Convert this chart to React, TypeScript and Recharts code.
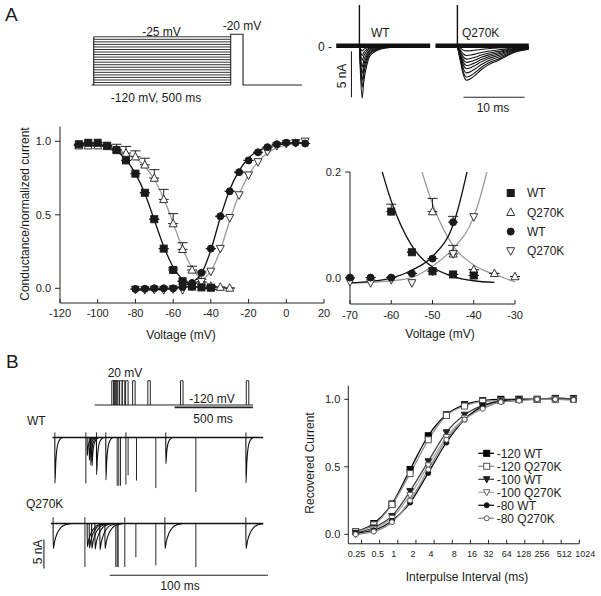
import React from 'react';
import { ComposedChart, LineChart, Line, Scatter, XAxis, YAxis, ErrorBar, Legend } from 'recharts';

const FONT = '"Liberation Sans", Arial, Helvetica, sans-serif';
const INK = '#1a1a1a';
const GRAY = '#9b9b9b';

/* ================= Panel A : voltage protocol ================= */
const prepulseLevels = [-120, -115, -110, -105, -100, -95, -90, -85, -80, -75, -70, -65, -60, -55, -50, -45, -40, -35, -30, -25];
const holdingLevel = -120;
const testLevel = -20;
const protocolTimes = [-8, 0, 500, 545, 760]; // start, prepulse on, test on, test off, end (ms)

/* ================= Panel A : current traces ================= */
const wtPeaks = [0.55, 1.05, 1.6, 2.3, 3.0, 3.75, 4.5, 5.7];
const q270kPeaks = [0.55, 1.05, 1.45, 1.8, 2.15, 2.5, 2.95, 3.4, 3.75];
const wtShapeTime = [0, 0.15, 0.45, 0.7, 1.2, 1.75, 2.9, 4.5, 8.0, 11.5];
const wtShapeFrac = [0, 0.45, 1.0, 0.7, 0.38, 0.19, 0.09, 0.04, 0.01, 0];
const q270kShapeTime = [0, 0.5, 1.0, 1.5, 2.2, 3.0, 3.8, 5.0, 6.6, 8.0, 9.3, 11.0, 11.7];
const q270kShapeFrac = [0, 0.45, 0.85, 1.0, 0.95, 0.84, 0.71, 0.56, 0.43, 0.3, 0.19, 0.12, 0.1];
const transientPeak = 4.46;

/* ================= Panel A : conductance / inactivation ================= */
const inactWTVolt = [-110, -105, -100, -95, -90, -85, -80, -75, -70, -65, -60, -55, -50, -45, -40];
const inactWTVal = [0.98, 0.99, 0.99, 0.97, 0.94, 0.87, 0.78, 0.65, 0.47, 0.27, 0.125, 0.048, 0.012, 0.006, 0.004];
const inactWTErr = [0, 0, 0, 0, 0, 0, 0, 0, 0, 0, 0.014, 0, 0, 0, 0];

const inactQVolt = [-110, -105, -100, -95, -90, -85, -80, -75, -70, -65, -60, -55, -50, -45, -40, -35, -30];
const inactQVal = [0.97, 0.97, 0.97, 0.965, 0.945, 0.92, 0.895, 0.84, 0.75, 0.605, 0.44, 0.265, 0.125, 0.045, 0.015, 0.008, 0.002];
const inactQErr = [0, 0, 0, 0.01, 0.035, 0.045, 0.04, 0.045, 0.057, 0.068, 0.068, 0.045, 0.025, 0.016, 0, 0, 0];

const actVolt = [-80, -75, -70, -65, -60, -55, -50, -45, -40, -35, -30, -25, -20, -15, -10, -5, 0, 5, 10];
const actWTVal = [-0.005, -0.003, 0.0, 0.0, 0.0, 0.008, 0.036, 0.105, 0.27, 0.49, 0.66, 0.79, 0.87, 0.925, 0.96, 0.98, 0.99, 0.99, 0.985];
const actWTErr = [0, 0, 0, 0, 0, 0, 0, 0.011, 0, 0, 0, 0, 0, 0, 0, 0, 0, 0, 0];
const actQVal = [-0.008, -0.01, -0.008, -0.01, -0.004, -0.01, 0.012, 0.045, 0.115, 0.27, 0.48, 0.635, 0.77, 0.86, 0.93, 0.97, 0.985, 0.99, 1.0];

const fitInactWTVolt = [-110, -100, -95, -90, -85, -80, -75, -70, -65, -60, -55, -50, -45, -40, -35];
const fitInactWTVal = [0.985, 0.98, 0.965, 0.935, 0.875, 0.78, 0.645, 0.465, 0.285, 0.145, 0.06, 0.02, 0.002, -0.006, -0.009];
const fitInactQVolt = [-110, -100, -95, -90, -85, -80, -75, -70, -65, -60, -55, -50, -45, -40, -35, -30];
const fitInactQVal = [0.975, 0.97, 0.96, 0.945, 0.92, 0.885, 0.83, 0.74, 0.61, 0.445, 0.27, 0.14, 0.06, 0.024, 0.006, -0.008];
const fitActVolt = [-80, -75, -70, -65, -60, -55, -50, -45, -40, -35, -30, -25, -20, -15, -10, -5, 0, 5, 10];
const fitActWTVal = [-0.012, -0.011, -0.01, -0.007, -0.001, 0.014, 0.04, 0.1, 0.26, 0.48, 0.67, 0.8, 0.885, 0.935, 0.96, 0.975, 0.985, 0.99, 0.99];
const fitActQVal = [-0.012, -0.011, -0.01, -0.009, -0.006, 0.0, 0.022, 0.055, 0.115, 0.26, 0.46, 0.64, 0.77, 0.86, 0.92, 0.955, 0.975, 0.985, 0.99];

const mainXTicks = [-120, -100, -80, -60, -40, -20, 0, 20];
const insetXTicks = [-70, -60, -50, -40, -30];

/* ================= Panel B : paired-pulse protocol & traces ================= */
const bPulseTimes = [110, 121, 132, 142, 160, 177, 198, 243, 340, 549, 969];
const bPulseWidth = 16;
const bProtocolEnd = 1011;

const bWtCurrentTimes = [0, 20.4, 21.7, 22.6, 23.4, 26.3, 32.2, 70.1, 120.7];
const bWtCurrentAmps = [7.9, 3.1, 3.9, 4.7, 4.9, 6.4, 7.3, 4.5, 7.8];
const bWtArtifactTimes = [19.6, 39.4, 40.4, 41.5, 44.9, 46.3, 51.6, 63.8, 89.1];
const bWtArtifactDepths = [7.9, 8.3, 8.3, 8.3, 8.1, 6.5, 7.4, 8.7, 9.4];
const bWtUpTimes = [0, 19.6, 26.3, 32.2, 44.9, 70.1, 120.7];

const bQCurrentTimes = [-1.1, 20.4, 21.7, 23.2, 25.3, 28.4, 31.6, 69.5, 120.7];
const bQCurrentAmps = [4.3, 4.0, 4.2, 4.3, 4.4, 4.5, 4.3, 4.3, 4.3];
const bQArtifactTimes = [19.0, 38.5, 39.4, 40.0, 44.2, 51.2, 63.8, 89.1];
const bQArtifactDepths = [7.5, 7.5, 7.5, 7.5, 7.5, 5.8, 7.2, 7.5];
const bQUpTimes = [-1.1, 19.0, 44.2, 69.5, 120.7];

const bWtShapeTime = [0, 0.05, 0.6, 1.3, 2.5, 4.5];
const bWtShapeFrac = [0, 1, 0.55, 0.25, 0.08, 0];
const bQShapeTime = [0, 0.1, 1.0, 2.5, 5.0, 8.0, 11.0];
const bQShapeFrac = [0, 1, 0.7, 0.4, 0.15, 0.04, 0];

/* ================= Panel B : recovery from inactivation ================= */
const recoveryIntervals = [0.2, 0.4, 0.8, 1.6, 3.2, 6.4, 12.8, 25.6, 51.2, 102.4, 204.8, 409.6, 819.2];
const recoveryTicks = [0.25, 0.5, 1, 2, 4, 8, 16, 32, 64, 128, 256, 512, 1024];
const rec120WT = [0.02, 0.08, 0.225, 0.48, 0.73, 0.885, 0.96, 0.99, 1.0, 1.0, 1.0, 1.005, 1.005];
const rec120Q = [0.02, 0.07, 0.22, 0.45, 0.7, 0.88, 0.95, 0.985, 0.99, 1.0, 1.0, 1.0, 1.0];
const rec100WT = [0.01, 0.05, 0.135, 0.32, 0.54, 0.755, 0.885, 0.955, 0.99, 1.0, 1.0, 1.01, 1.0];
const rec100Q = [0.0, 0.04, 0.12, 0.29, 0.51, 0.72, 0.86, 0.94, 0.985, 0.995, 1.0, 1.0, 1.0];
const rec80WT = [0.01, 0.03, 0.1, 0.235, 0.455, 0.68, 0.85, 0.95, 0.985, 1.0, 1.0, 1.0, 1.0];
const rec80Q = [0.0, 0.02, 0.09, 0.25, 0.48, 0.7, 0.85, 0.93, 0.98, 0.99, 1.0, 1.0, 0.995];

// small horizontal nudges of crowded tick labels (style only)
const recoveryTickNudge: Record<string, number> = { '0.25': -5, '0.5': -2, '1': -4, '2': -3, '4': -3, '8': 2, '16': 1.5, '128': -1, '256': -1, '512': 3, '1024': 6 };

/* ================= helpers ================= */
type P = { x: number; y: number; err?: number[] };
const pts = (xs: number[], ys: number[]): P[] => xs.map((x, i) => ({ x, y: ys[i] }));
const ptsErr = (xs: number[], ys: number[], es: number[]): P[] => xs.map((x, i) => ({ x, y: ys[i], err: [0, es[i]] }));

type Kind = 'square' | 'triangle' | 'invtriangle' | 'circle';
function Glyph({ kind, cx, cy, size, filled, color = INK, sw = 1 }: { kind: Kind; cx: number; cy: number; size: number; filled: boolean; color?: string; sw?: number }) {
  if (cx == null || cy == null || isNaN(cx) || isNaN(cy)) return null;
  const h = size / 2;
  const fill = filled ? color : '#fff';
  const c = { fill, stroke: color, strokeWidth: sw };
  switch (kind) {
    case 'square':
      return <rect x={cx - h} y={cy - h} width={size} height={size} {...c} />;
    case 'circle':
      return <circle cx={cx} cy={cy} r={h} {...c} />;
    case 'triangle':
      return <polygon points={`${cx},${cy - h * 1.1} ${cx + h},${cy + h * 0.8} ${cx - h},${cy + h * 0.8}`} {...c} />;
    default:
      return <polygon points={`${cx},${cy + h * 1.1} ${cx + h},${cy - h * 0.8} ${cx - h},${cy - h * 0.8}`} {...c} />;
  }
}

type Seg = { data: P[]; stroke: string; width: number; curve?: 'linear' | 'monotone' };

function Drawing({ left, top, width, height, xDomain, yDomain, segs }: { left: number; top: number; width: number; height: number; xDomain: number[]; yDomain: number[]; segs: Seg[] }) {
  return (
    <div style={{ position: 'absolute', left, top }}>
      <LineChart width={width} height={height} margin={{ top: 0, right: 0, bottom: 0, left: 0 }}>
        <XAxis type="number" dataKey="x" domain={xDomain} hide />
        <YAxis type="number" dataKey="y" domain={yDomain} hide />
        {segs.map((s, i) => (
          <Line key={i} data={s.data} dataKey="y" type={s.curve || 'linear'} stroke={s.stroke} strokeWidth={s.width} dot={false} activeDot={false} isAnimationActive={false} legendType="none" />
        ))}
      </LineChart>
    </div>
  );
}

/* ---------- build drawing segments ---------- */
const protocolASegs: Seg[] = [
  ...prepulseLevels.map((v) => ({ data: [{ x: protocolTimes[1], y: v }, { x: protocolTimes[2], y: v }], stroke: '#333', width: 1 })),
  { data: [{ x: protocolTimes[0], y: holdingLevel }, { x: protocolTimes[1], y: holdingLevel }, { x: protocolTimes[1], y: prepulseLevels[prepulseLevels.length - 1] }], stroke: '#222', width: 1.1 },
  {
    data: [
      { x: protocolTimes[2], y: holdingLevel },
      { x: protocolTimes[2], y: testLevel },
      { x: protocolTimes[3], y: testLevel },
      { x: protocolTimes[3], y: holdingLevel },
      { x: protocolTimes[4], y: holdingLevel },
    ],
    stroke: '#222',
    width: 1.1,
  },
];

const family = (peaks: number[], ts: number[], fs: number[]): Seg[] =>
  peaks.map((p) => ({ data: ts.map((t, i) => ({ x: t, y: -p * fs[i] })), stroke: '#111', width: 1.1, curve: 'monotone' as const }));

const wtTraceSegs: Seg[] = [
  { data: [{ x: -3.8, y: 0 }, { x: 11.6, y: 0 }], stroke: '#111', width: 4.5 },
  ...family(wtPeaks, wtShapeTime, wtShapeFrac),
  { data: [{ x: 0, y: 0 }, { x: 0, y: transientPeak }], stroke: '#111', width: 1.4 },
  { data: [{ x: -1.3, y: -0.6 }, { x: -1.3, y: -5.6 }], stroke: '#222', width: 1.1 },
];
const qTraceSegs: Seg[] = [
  { data: [{ x: -3.6, y: 0 }, { x: 11.7, y: 0 }], stroke: '#111', width: 4.5 },
  ...family(q270kPeaks, q270kShapeTime, q270kShapeFrac),
  { data: [{ x: 0, y: 0 }, { x: 0, y: transientPeak }], stroke: '#111', width: 1.4 },
  { data: [{ x: 1.0, y: -5.6 }, { x: 11.0, y: -5.6 }], stroke: '#222', width: 1.1 },
];

const protocolBSegs: Seg[] = [
  { data: [{ x: 0, y: -120 }, { x: bProtocolEnd, y: -120 }], stroke: '#222', width: 1.1 },
  ...bPulseTimes.map((t) => ({
    data: [{ x: t, y: -120 }, { x: t, y: 20 }, { x: t + bPulseWidth, y: 20 }, { x: t + bPulseWidth, y: -120 }],
    stroke: '#222',
    width: 1,
  })),
  { data: [{ x: bProtocolEnd - 500, y: -133 }, { x: bProtocolEnd, y: -133 }], stroke: '#222', width: 1.8 },
];

const currentSegs = (times: number[], amps: number[], st: number[], sf: number[]): Seg[] =>
  times.map((t, i) => ({ data: st.map((s, j) => ({ x: t + s, y: -amps[i] * sf[j] })), stroke: '#111', width: 1.1, curve: 'monotone' as const }));
const artifactSegs = (times: number[], depths: number[]): Seg[] =>
  times.map((t, i) => ({ data: [{ x: t, y: 0 }, { x: t, y: -depths[i] }], stroke: '#111', width: 0.9 }));
const upSegs = (times: number[], up: number): Seg[] => times.map((t) => ({ data: [{ x: t, y: 0 }, { x: t, y: up }], stroke: '#111', width: 0.9 }));

const bWtSegs: Seg[] = [
  { data: [{ x: -1.5, y: 0 }, { x: 131.6, y: 0 }], stroke: '#111', width: 1.5 },
  ...currentSegs(bWtCurrentTimes, bWtCurrentAmps, bWtShapeTime, bWtShapeFrac),
  ...artifactSegs(bWtArtifactTimes, bWtArtifactDepths),
  ...upSegs(bWtUpTimes, 0.9),
];
const bQSegs: Seg[] = [
  { data: [{ x: -2.5, y: 0 }, { x: 131.6, y: 0 }], stroke: '#111', width: 1.5 },
  ...currentSegs(bQCurrentTimes, bQCurrentAmps, bQShapeTime, bQShapeFrac),
  ...artifactSegs(bQArtifactTimes, bQArtifactDepths),
  ...upSegs(bQUpTimes, 1.1),
  { data: [{ x: -6.9, y: -2.76 }, { x: -6.9, y: -7.76 }], stroke: '#222', width: 1.1 },
  { data: [{ x: 34.7, y: -8.9 }, { x: 134.7, y: -8.9 }], stroke: '#222', width: 1.1 },
];

/* ---------- conductance chart data ---------- */
const inactWT = ptsErr(inactWTVolt, inactWTVal, inactWTErr);
const inactQ = ptsErr(inactQVolt, inactQVal, inactQErr);
const actWT = ptsErr(actVolt, actWTVal, actWTErr);
const actQ = pts(actVolt, actQVal);
const fitInactWT = pts(fitInactWTVolt, fitInactWTVal);
const fitInactQ = pts(fitInactQVolt, fitInactQVal);
const fitActWT = pts(fitActVolt, fitActWTVal);
const fitActQ = pts(fitActVolt, fitActQVal);

const inWinX = (p: P) => p.x >= -70 && p.x <= -30;
const inWin = (p: P) => inWinX(p) && p.y <= 0.2;

const axisStroke = { stroke: '#222', strokeWidth: 1 };
const tickStyle = (fs: number) => ({ fontSize: fs, fill: '#222', fontFamily: FONT });

const shapeOf = (kind: Kind, size: number, filled: boolean, color = INK) => (p: any) => (
  <Glyph kind={kind} cx={p.cx} cy={p.cy} size={size} filled={filled} color={color} />
);

function MainChart() {
  return (
    <div style={{ position: 'absolute', left: 0, top: 100 }}>
      <ComposedChart width={340} height={240} margin={{ top: 26.6, right: 16, bottom: 7, left: 20 }}>
        <XAxis type="number" dataKey="x" domain={[-120, 20]} ticks={mainXTicks} interval={0} height={30} tickSize={-4} tickMargin={10.5} axisLine={axisStroke} tickLine={axisStroke} tick={tickStyle(11)} />
        <YAxis type="number" dataKey="y" domain={[-0.1, 1.1]} ticks={[0, 0.5, 1]} interval={0} width={40} tickSize={5} tickMargin={4} tickFormatter={(v: number) => v.toFixed(1)} axisLine={axisStroke} tickLine={axisStroke} tick={tickStyle(11)} />
        <Line data={fitInactQ} dataKey="y" type="monotone" stroke={GRAY} strokeWidth={1.3} dot={false} activeDot={false} isAnimationActive={false} />
        <Line data={fitActQ} dataKey="y" type="monotone" stroke={GRAY} strokeWidth={1.3} dot={false} activeDot={false} isAnimationActive={false} />
        <Line data={fitInactWT} dataKey="y" type="monotone" stroke="#111" strokeWidth={1.3} dot={false} activeDot={false} isAnimationActive={false} />
        <Line data={fitActWT} dataKey="y" type="monotone" stroke="#111" strokeWidth={1.3} dot={false} activeDot={false} isAnimationActive={false} />
        <Scatter data={inactQ} dataKey="y" shape={shapeOf('triangle', 8, false, '#333')} isAnimationActive={false}>
          <ErrorBar dataKey="err" direction="y" width={5} stroke="#222" strokeWidth={1} />
        </Scatter>
        <Scatter data={actQ} dataKey="y" shape={shapeOf('invtriangle', 8, false, '#333')} isAnimationActive={false} />
        <Scatter data={inactWT} dataKey="y" shape={shapeOf('square', 7, true)} isAnimationActive={false}>
          <ErrorBar dataKey="err" direction="y" width={5} stroke="#222" strokeWidth={1} />
        </Scatter>
        <Scatter data={actWT} dataKey="y" shape={shapeOf('circle', 7, true)} isAnimationActive={false}>
          <ErrorBar dataKey="err" direction="y" width={5} stroke="#222" strokeWidth={1} />
        </Scatter>
      </ComposedChart>
    </div>
  );
}

const insetLegendItems: { label: string; kind: Kind; filled: boolean }[] = [
  { label: 'WT', kind: 'square', filled: true },
  { label: 'Q270K', kind: 'triangle', filled: false },
  { label: 'WT', kind: 'circle', filled: true },
  { label: 'Q270K', kind: 'invtriangle', filled: false },
];

function InsetLegend() {
  return (
    <svg width={90} height={80} style={{ overflow: 'visible' }}>
      {insetLegendItems.map((it, i) => (
        <g key={i}>
          <Glyph kind={it.kind} cx={10.7} cy={13 + i * 19.3} size={it.kind === 'square' || it.kind === 'circle' ? 7 : 8} filled={it.filled} color={it.filled ? INK : '#333'} />
          <text x={27} y={17.3 + i * 19.3} fontSize={12} fontFamily={FONT} fill="#222">{it.label}</text>
        </g>
      ))}
    </svg>
  );
}

function InsetChart() {
  return (
    <div style={{ position: 'absolute', left: 300, top: 140 }}>
      <ComposedChart width={290} height={200} margin={{ top: 32, right: 75, bottom: 6, left: 10 }}>
        <XAxis type="number" dataKey="x" domain={[-70, -30]} ticks={insetXTicks} interval={0} height={30} tickSize={-4} tickMargin={11} axisLine={axisStroke} tickLine={axisStroke} tick={tickStyle(11)} />
        <YAxis type="number" dataKey="y" domain={[-0.05, 0.2]} allowDataOverflow ticks={[0, 0.2]} interval={0} width={40} tickSize={5} tickMargin={4} tickFormatter={(v: number) => v.toFixed(1)} axisLine={axisStroke} tickLine={axisStroke} tick={tickStyle(11)} />
        <Line data={fitInactQ.filter(inWinX)} dataKey="y" type="monotone" stroke={GRAY} strokeWidth={1.3} dot={false} activeDot={false} isAnimationActive={false} />
        <Line data={fitActQ.filter(inWinX)} dataKey="y" type="monotone" stroke={GRAY} strokeWidth={1.3} dot={false} activeDot={false} isAnimationActive={false} />
        <Line data={fitInactWT.filter(inWinX)} dataKey="y" type="monotone" stroke="#111" strokeWidth={1.3} dot={false} activeDot={false} isAnimationActive={false} />
        <Line data={fitActWT.filter(inWinX)} dataKey="y" type="monotone" stroke="#111" strokeWidth={1.3} dot={false} activeDot={false} isAnimationActive={false} />
        <Scatter data={inactQ.filter(inWin)} dataKey="y" shape={shapeOf('triangle', 8, false, '#333')} isAnimationActive={false}>
          <ErrorBar dataKey="err" direction="y" width={5} stroke="#222" strokeWidth={1} />
        </Scatter>
        <Scatter data={actQ.filter(inWin)} dataKey="y" shape={shapeOf('invtriangle', 8, false, '#333')} isAnimationActive={false} />
        <Scatter data={inactWT.filter(inWin)} dataKey="y" shape={shapeOf('square', 7, true)} isAnimationActive={false}>
          <ErrorBar dataKey="err" direction="y" width={5} stroke="#222" strokeWidth={1} />
        </Scatter>
        <Scatter data={actWT.filter(inWin)} dataKey="y" shape={shapeOf('circle', 7, true)} isAnimationActive={false}>
          <ErrorBar dataKey="err" direction="y" width={5} stroke="#222" strokeWidth={1} />
        </Scatter>
        <Legend layout="vertical" align="center" verticalAlign="middle" wrapperStyle={{ left: 200, top: 40, width: 90, height: 80 }} content={() => <InsetLegend />} />
      </ComposedChart>
    </div>
  );
}

const recoverySeries: { name: string; values: number[]; kind: Kind; filled: boolean; line: string; mark: string; size: number }[] = [
  { name: '-120 WT', values: rec120WT, kind: 'square', filled: true, line: '#000', mark: '#000', size: 6 },
  { name: '-120 Q270K', values: rec120Q, kind: 'square', filled: false, line: '#8c8c8c', mark: '#555', size: 6 },
  { name: '-100 WT', values: rec100WT, kind: 'invtriangle', filled: true, line: '#444', mark: '#222', size: 6.5 },
  { name: '-100 Q270K', values: rec100Q, kind: 'invtriangle', filled: false, line: '#a8a8a8', mark: '#666', size: 6.5 },
  { name: '-80 WT', values: rec80WT, kind: 'circle', filled: true, line: '#111', mark: '#111', size: 5 },
  { name: '-80 Q270K', values: rec80Q, kind: 'circle', filled: false, line: '#8c8c8c', mark: '#555', size: 5 },
];

function RecoveryLegend() {
  return (
    <svg width={110} height={82} style={{ overflow: 'visible' }}>
      {recoverySeries.map((s, i) => (
        <g key={i}>
          <line x1={3.3} x2={19} y1={8.3 + i * 13} y2={8.3 + i * 13} stroke={s.line} strokeWidth={1.3} />
          <Glyph kind={s.kind} cx={11.7} cy={8.3 + i * 13} size={s.size} filled={s.filled} color={s.mark} />
          <text x={21.7} y={12.5 + i * 13} fontSize={12} fontFamily={FONT} fill="#222">{s.name}</text>
        </g>
      ))}
    </svg>
  );
}

function RecoveryTick(props: any) {
  const { x, y, payload } = props;
  const label = String(payload.value);
  const dx = recoveryTickNudge[label] || 0;
  return (
    <text x={x + dx} y={y} dy="0.71em" textAnchor="middle" fontSize={9} fontFamily={FONT} fill="#222">
      {label}
    </text>
  );
}

function RecoveryChart() {
  return (
    <div style={{ position: 'absolute', left: 290, top: 360 }}>
      <ComposedChart width={311} height={210} margin={{ top: 25.8, right: 21.7, bottom: 1.25, left: 13.3 }}>
        <XAxis type="number" dataKey="x" scale="log" domain={[0.151, 1024]} ticks={recoveryTicks} interval={0} height={25} tickSize={-4} tickMargin={11} axisLine={axisStroke} tickLine={axisStroke} tick={<RecoveryTick />} />
        <YAxis type="number" dataKey="y" domain={[-0.07, 1.1]} ticks={[0, 0.5, 1]} interval={0} width={45} tickSize={4} tickMargin={4} tickFormatter={(v: number) => v.toFixed(1)} axisLine={axisStroke} tickLine={axisStroke} tick={tickStyle(11)} />
        {recoverySeries.map((s, i) => (
          <Line
            key={i}
            name={s.name}
            data={pts(recoveryIntervals, s.values)}
            dataKey="y"
            type="monotone"
            stroke={s.line}
            strokeWidth={1.3}
            activeDot={false}
            isAnimationActive={false}
            dot={(p: any) => <Glyph key={`d${i}-${p.index}`} kind={s.kind} cx={p.cx} cy={p.cy} size={s.size} filled={s.filled} color={s.mark} />}
          />
        ))}
        <Legend layout="vertical" align="center" verticalAlign="middle" wrapperStyle={{ left: 185, top: 85, width: 110, height: 82 }} content={() => <RecoveryLegend />} />
      </ComposedChart>
    </div>
  );
}

function T({ x, y, children, size = 12, anchor = 'middle', rotate }: { x: number; y: number; children: React.ReactNode; size?: number; anchor?: string; rotate?: boolean }) {
  return (
    <text
      x={x}
      y={y}
      fontSize={size}
      fontFamily={FONT}
      fill="#1a1a1a"
      textAnchor={anchor as any}
      dominantBaseline={rotate ? 'central' : undefined}
      transform={rotate ? `rotate(-90 ${x} ${y})` : undefined}
    >
      {children}
    </text>
  );
}

function Annotations() {
  return (
    <svg width={601} height={596} style={{ position: 'absolute', left: 0, top: 0, pointerEvents: 'none' }}>
      <T x={5} y={21} size={19} anchor="start">A</T>
      <T x={161.5} y={35.5}>-25 mV</T>
      <T x={242} y={30}>-20 mV</T>
      <T x={156} y={101.5}>-120 mV, 500 ms</T>
      <T x={318} y={50.5} anchor="start">0 -</T>
      <T x={371} y={37} anchor="start">WT</T>
      <T x={462} y={37} anchor="start">Q270K</T>
      <T x={341.7} y={76} rotate>5 nA</T>
      <T x={493} y={111.5}>10 ms</T>
      <T x={25} y={214} rotate>Conductance/normalized current</T>
      <T x={181} y={339}>Voltage  (mV)</T>
      <T x={440} y={337.5}>Voltage  (mV)</T>
      <T x={6} y={368} size={19} anchor="start">B</T>
      <T x={125} y={377}>20 mV</T>
      <T x={212} y={402.5}>-120 mV</T>
      <T x={213} y={422.5}>500 ms</T>
      <T x={27} y={424.5} anchor="start">WT</T>
      <T x={26} y={508} anchor="start">Q270K</T>
      <T x={37.5} y={552} rotate>5 nA</T>
      <T x={180} y={590}>100 ms</T>
      <T x={310} y={463} rotate>Recovered Current</T>
      <T x={467} y={580.5}>Interpulse Interval (ms)</T>
    </svg>
  );
}

export default function App() {
  return (
    <div style={{ position: 'absolute', left: 0, top: 0, width: 601, height: 596, background: '#fff', overflow: 'hidden', fontFamily: FONT }}>
      <Drawing left={80.3} top={19} width={239.75} height={81.3} xDomain={[-50, 825]} yDomain={[-150, 10]} segs={protocolASegs} />
      <Drawing left={334.9} top={0} width={97.6} height={107.3} xDomain={[-4, 12]} yDomain={[-6.7, 5]} segs={wtTraceSegs} />
      <Drawing left={432.6} top={0} width={97.6} height={107.3} xDomain={[-4, 12]} yDomain={[-6.7, 5]} segs={qTraceSegs} />
      <MainChart />
      <InsetChart />
      <Drawing left={93.4} top={378.96} width={161.3} height={30.4} xDomain={[-10, 1020]} yDomain={[-145, 30]} segs={protocolBSegs} />
      <Drawing left={39.2} top={425.7} width={231.1} height={72.5} xDomain={[-10, 136]} yDomain={[-10.5, 2]} segs={bWtSegs} />
      <Drawing left={39.2} top={511.7} width={231.1} height={66.7} xDomain={[-10, 136]} yDomain={[-9.5, 2]} segs={bQSegs} />
      <RecoveryChart />
      <Annotations />
    </div>
  );
}
